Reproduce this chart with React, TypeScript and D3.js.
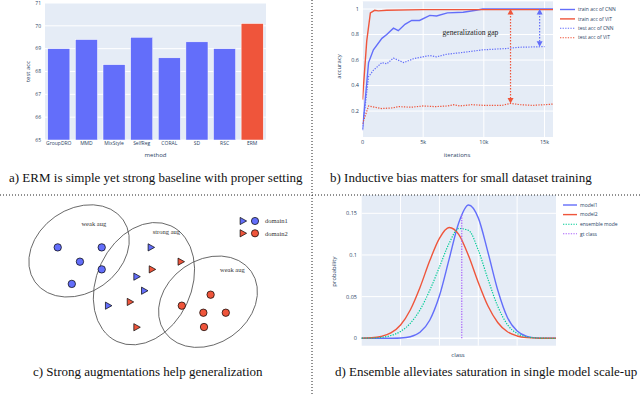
import React from "react";
import * as d3 from "d3";

// ---- panel a: test acc per method
const methods = ["GroupDRO", "MMD", "MixStyle", "SelfReg", "CORAL", "SD", "RSC", "ERM"];
const testAcc = [69.0, 69.4, 68.3, 69.5, 68.6, 69.3, 69.0, 70.1];
const accTicks = [65, 66, 67, 68, 69, 70, 71];

// ---- panel b: training curves
const cnnTrainIter = [0, 500, 900, 1600, 2000, 2550, 2950, 3500, 4050, 4700, 5550, 6100, 7000, 8300, 9350, 9900, 12000, 15700];
const cnnTrainAcc = [0.05, 0.58, 0.68, 0.77, 0.8, 0.85, 0.83, 0.88, 0.91, 0.91, 0.95, 0.945, 0.97, 0.975, 0.99, 1.0, 1.0, 1.0];
const vitTrainIter = [0, 350, 650, 1000, 1300, 2000, 5000, 15700];
const vitTrainAcc = [0.29, 0.75, 0.97, 0.99, 0.985, 0.99, 0.995, 0.995];
const cnnTestIter = [0, 500, 900, 1600, 2000, 2550, 3400, 4200, 4700, 5550, 6100, 6900, 8300, 9900, 11800, 12900, 15000];
const cnnTestAcc = [0.06, 0.47, 0.52, 0.58, 0.57, 0.615, 0.58, 0.61, 0.62, 0.635, 0.625, 0.645, 0.66, 0.68, 0.69, 0.7, 0.705];
const vitTestIter = [0, 500, 1000, 1600, 2500, 3000, 4000, 5000, 6000, 7000, 7500, 8000, 9000, 10000, 11500, 12200, 13000, 14000, 15000, 15700];
const vitTestAcc = [0.1, 0.24, 0.23, 0.22, 0.225, 0.235, 0.23, 0.24, 0.235, 0.24, 0.25, 0.24, 0.25, 0.245, 0.245, 0.26, 0.25, 0.245, 0.25, 0.255];
const iterTicks = [0, 5000, 10000, 15000];
const accTicksB = [0.2, 0.4, 0.6, 0.8, 1];

// ---- panel c: toy feature space
const d1Circles = [[1.26, 4.21], [3.26, 4.21], [2.27, 3.56], [3.26, 3.21], [1.9, 2.55]];
const d1Triangles = [[5.5, 4.21], [4.85, 2.88], [5.2, 2.24], [3.56, 1.56]];
const d2Triangles = [[6.86, 3.56], [5.55, 3.21], [4.55, 1.73], [4.85, 0.58]];
const d2Circles = [[6.9, 1.56], [8.21, 2.06], [7.88, 1.24], [8.9, 1.24], [7.91, 0.59]];
const augNames = ["weak aug", "strong aug", "weak aug"];
const augCenters = [[2.23, 4.05], [5.18, 2.56], [8.09, 1.74]];
const augRadii = [[2.45, 1.9], [2.15, 2.9], [2.4, 1.9]];
const augAngles = [-35, 25, -35];
const augLabelPos = [[2.9, 5.2], [6.2, 4.8], [9.2, 3.1]];

// ---- panel d: class distributions
const classX = [0, 5, 10, 15, 20, 25, 30, 35, 40, 45, 50, 55, 60, 65, 70, 75, 80, 85, 90, 95, 100];
const model1P = [0, 0, 0, 0.0001, 0.0004, 0.0019, 0.0072, 0.0217, 0.051, 0.095, 0.139, 0.16, 0.1445, 0.103, 0.058, 0.025, 0.0088, 0.0024, 0.0005, 0.0001, 0];
const model2P = [0.0002, 0.0006, 0.0022, 0.0064, 0.016, 0.034, 0.061, 0.093, 0.12, 0.133, 0.1245, 0.099, 0.067, 0.0387, 0.019, 0.0078, 0.0028, 0.0008, 0.0002, 0.0001, 0];
const ensembleP = [0.0001, 0.0003, 0.0011, 0.0033, 0.0082, 0.018, 0.0341, 0.0574, 0.0855, 0.114, 0.1318, 0.1295, 0.1058, 0.0709, 0.0385, 0.0164, 0.0058, 0.0016, 0.0004, 0.0001, 0];
const gtClass = 51.5;
const gtTop = 0.148;
const probTicks = [0, 0.05, 0.1, 0.15];
const classGrid = [20, 40, 60, 80];

const BLUE = "#636efa";
const RED = "#ef553b";
const GREEN = "#00cc96";
const PURPLE = "#ab63fa";
const BG = "#e5ecf6";
const FONT_COLOR = "#2a3f5f";
const SANS = "'Open Sans', 'DejaVu Sans', sans-serif";
const SERIF = "'Liberation Serif', 'DejaVu Serif', serif";

function PanelA() {
  const x = d3.scaleBand().domain(methods).range([45, 266]).paddingInner(0.2).paddingOuter(0.1);
  const y = d3.scaleLinear().domain([65, 71]).range([140, 3]);
  return (
    <g>
      <rect x={45} y={3} width={221} height={137} fill={BG} />
      {accTicks.map((t) => (
        <g key={t}>
          <line x1={45} x2={266} y1={y(t)} y2={y(t)} stroke="#fff" strokeWidth={1} />
          <text x={41} y={y(t)} dy="0.35em" textAnchor="end" fontSize={5} fill={FONT_COLOR}>{t}</text>
        </g>
      ))}
      {methods.map((m, i) => (
        <rect key={m} x={x(m)} y={y(testAcc[i])} width={x.bandwidth()} height={y(65) - y(testAcc[i])}
          fill={m === "ERM" ? RED : BLUE} stroke="#fff" strokeWidth={0.5} />
      ))}
      {methods.map((m) => (
        <text key={m} x={(x(m) as number) + x.bandwidth() / 2} y={145} textAnchor="middle" fontSize={5} fill={FONT_COLOR}>{m}</text>
      ))}
      <text x={155.5} y={157} textAnchor="middle" fontSize={6} fill={FONT_COLOR}>method</text>
      <text transform={`translate(30,${y(68)}) rotate(-90)`} textAnchor="middle" fontSize={6} fill={FONT_COLOR}>test acc</text>
    </g>
  );
}

function Arrow({ x, y1, y2, color }: { x: number; y1: number; y2: number; color: string }) {
  return (
    <g>
      <line x1={x} x2={x} y1={y1 + 4} y2={y2 - 4} stroke={color} strokeWidth={1.2} strokeDasharray="1.5 1.5" />
      <path d={`M${x},${y1} l-3,5.5 l6,0 z`} fill={color} />
      <path d={`M${x},${y2} l-3,-5.5 l6,0 z`} fill={color} />
    </g>
  );
}

function PanelB() {
  const x = d3.scaleLinear().domain([0, 15700]).range([362.5, 553]);
  const y = d3.scaleLinear().domain([0, 1]).range([136.6, 9]);
  const line = d3.line<[number, number]>().x((d) => x(d[0])).y((d) => y(d[1]));
  const series = [
    { name: "train acc of CNN", it: cnnTrainIter, v: cnnTrainAcc, c: BLUE, dash: undefined },
    { name: "train acc of ViT", it: vitTrainIter, v: vitTrainAcc, c: RED, dash: undefined },
    { name: "test acc of CNN", it: cnnTestIter, v: cnnTestAcc, c: BLUE, dash: "1.3 1.3" },
    { name: "test acc of ViT", it: vitTestIter, v: vitTestAcc, c: RED, dash: "1.3 1.3" },
  ];
  const top = y(1.06);
  return (
    <g>
      <defs>
        <clipPath id="clipB"><rect x={362.5} y={top} width={553 - 362.5} height={137 - top} /></clipPath>
      </defs>
      <rect x={362.5} y={top} width={553 - 362.5} height={137 - top} fill={BG} />
      {accTicksB.map((t) => (
        <g key={t}>
          <line x1={362.5} x2={553} y1={y(t)} y2={y(t)} stroke="#fff" />
          <text x={359} y={y(t)} dy="0.35em" textAnchor="end" fontSize={5.5} fill={FONT_COLOR}>{t}</text>
        </g>
      ))}
      {iterTicks.map((t) => (
        <g key={t}>
          <line x1={x(t)} x2={x(t)} y1={top} y2={137} stroke="#fff" />
          <text x={x(t)} y={144} textAnchor="middle" fontSize={5.5} fill={FONT_COLOR}>{d3.format("~s")(t)}</text>
        </g>
      ))}
      <g clipPath="url(#clipB)">
        {series.map((s) => (
          <path key={s.name} d={line(s.it.map((it, i) => [it, s.v[i]] as [number, number])) || ""}
            fill="none" stroke={s.c} strokeWidth={s.dash ? 1.2 : 1.4} strokeDasharray={s.dash} />
        ))}
      </g>
      <Arrow x={x(12200)} y1={y(1.0)} y2={y(0.26)} color={RED} />
      <Arrow x={x(14600)} y1={y(1.0)} y2={y(0.705)} color={BLUE} />
      <text x={x(8900)} y={y(0.8)} textAnchor="middle" fontSize={7.6} fontFamily={SERIF} fill="#222">generalization gap</text>
      <text x={457} y={157} textAnchor="middle" fontSize={6} fill={FONT_COLOR}>iterations</text>
      <text transform={`translate(341,${y(0.55)}) rotate(-90)`} textAnchor="middle" fontSize={6} fill={FONT_COLOR}>accuracy</text>
      {series.map((s, i) => (
        <g key={s.name} transform={`translate(560,${9.5 + i * 9.4})`}>
          <line x1={0} x2={15} y1={0} y2={0} stroke={s.c} strokeWidth={s.dash ? 1.1 : 1.4} strokeDasharray={s.dash} />
          <text x={18} y={0} dy="0.35em" fontSize={5} fill={FONT_COLOR}>{s.name}</text>
        </g>
      ))}
    </g>
  );
}

function PanelC() {
  const sx = d3.scaleLinear().domain([0, 10]).range([30, 250]);
  const sy = d3.scaleLinear().domain([0, 6]).range([340, 208]);
  const k = sx(1) - sx(0);
  const tri = (cx: number, cy: number, s = 4.2) =>
    `M${cx - s * 0.8},${cy - s} L${cx + s},${cy} L${cx - s * 0.8},${cy + s} Z`;
  return (
    <g fontFamily={SERIF}>
      {augCenters.map((c, i) => (
        <ellipse key={i} cx={0} cy={0} rx={augRadii[i][0] * k} ry={augRadii[i][1] * k}
          transform={`translate(${sx(c[0])},${sy(c[1])}) rotate(${augAngles[i]})`}
          fill="none" stroke="#555" strokeWidth={0.8} />
      ))}
      {augNames.map((n, i) => (
        <text key={i} x={sx(augLabelPos[i][0])} y={sy(augLabelPos[i][1])} textAnchor="middle" fontSize={6.5} fill="#333">{n}</text>
      ))}
      {d1Circles.map((p, i) => (
        <circle key={"a" + i} cx={sx(p[0])} cy={sy(p[1])} r={3.7} fill={BLUE} stroke="#000" strokeWidth={0.7} />
      ))}
      {d2Circles.map((p, i) => (
        <circle key={"b" + i} cx={sx(p[0])} cy={sy(p[1])} r={3.7} fill={RED} stroke="#000" strokeWidth={0.7} />
      ))}
      {d1Triangles.map((p, i) => (
        <path key={"c" + i} d={tri(sx(p[0]), sy(p[1]), 3.6)} fill={BLUE} stroke="#000" strokeWidth={0.7} />
      ))}
      {d2Triangles.map((p, i) => (
        <path key={"d" + i} d={tri(sx(p[0]), sy(p[1]), 3.6)} fill={RED} stroke="#000" strokeWidth={0.7} />
      ))}
      {[BLUE, RED].map((c, i) => (
        <g key={c} transform={`translate(0,${221 + i * 12.3})`}>
          <path d={tri(243, 0, 3.6)} fill={c} stroke="#000" strokeWidth={0.7} />
          <circle cx={255} cy={0} r={3.6} fill={c} stroke="#000" strokeWidth={0.7} />
          <text x={265} y={0} dy="0.35em" fontSize={6.5} fill="#333">{`domain${i + 1}`}</text>
        </g>
      ))}
    </g>
  );
}

function PanelD() {
  const x = d3.scaleLinear().domain([0, 100]).range([361.7, 556]);
  const y = d3.scaleLinear().domain([0, 0.15]).range([338.3, 213.3]);
  const top = 195;
  const bottom = 345.7;
  const line = d3.line<number>().x((_, i) => x(classX[i])).y((d) => y(d)).curve(d3.curveMonotoneX);
  const series = [
    { name: "model1", v: model1P, c: BLUE, dash: undefined },
    { name: "model2", v: model2P, c: RED, dash: undefined },
    { name: "ensemble mode", v: ensembleP, c: GREEN, dash: "1.3 1.3" },
  ];
  const legend = [...series.map((s) => ({ name: s.name, c: s.c, dash: s.dash })), { name: "gt class", c: PURPLE, dash: "1.3 1.3" }];
  return (
    <g>
      <rect x={361.7} y={top} width={556 - 361.7} height={bottom - top} fill={BG} />
      {probTicks.map((t) => (
        <g key={t}>
          <line x1={361.7} x2={556} y1={y(t)} y2={y(t)} stroke="#fff" strokeWidth={t === 0 ? 1.4 : 1} />
          <text x={357} y={y(t)} dy="0.35em" textAnchor="end" fontSize={5.5} fill={FONT_COLOR}>{t}</text>
        </g>
      ))}
      {classGrid.map((t) => (
        <line key={t} x1={x(t)} x2={x(t)} y1={top} y2={bottom} stroke="#fff" />
      ))}
      {series.map((s) => (
        <path key={s.name} d={line(s.v) || ""} fill="none" stroke={s.c} strokeWidth={s.dash ? 1.2 : 1.4} strokeDasharray={s.dash} />
      ))}
      <line x1={x(gtClass)} x2={x(gtClass)} y1={y(0)} y2={y(gtTop)} stroke={PURPLE} strokeWidth={1.2} strokeDasharray="1.3 1.3" />
      <text x={458} y={357} textAnchor="middle" fontSize={6} fill={FONT_COLOR}>class</text>
      <text transform={`translate(336,${y(0.08)}) rotate(-90)`} textAnchor="middle" fontSize={6} fill={FONT_COLOR}>probability</text>
      {legend.map((s, i) => (
        <g key={s.name} transform={`translate(563,${205 + i * 9.6})`}>
          <line x1={0} x2={14} y1={0} y2={0} stroke={s.c} strokeWidth={s.dash ? 1.1 : 1.4} strokeDasharray={s.dash} />
          <text x={17} y={0} dy="0.35em" fontSize={5} fill={FONT_COLOR}>{s.name}</text>
        </g>
      ))}
    </g>
  );
}

export default function App() {
  return (
    <svg width={640} height={396} style={{ position: "absolute", left: 0, top: 0, background: "#fff" }}
      fontFamily={SANS}>
      <PanelA />
      <PanelB />
      <PanelC />
      <PanelD />
      <g fontFamily={SERIF} fontSize={13} fill="#111">
        <text x={9} y={181.5}>a) ERM is simple yet strong baseline with proper setting</text>
        <text x={330} y={181.5}>b) Inductive bias matters for small dataset training</text>
        <text x={33} y={376}>c) Strong augmentations help generalization</text>
        <text x={335} y={376}>d) Ensemble alleviates saturation in single model scale-up</text>
      </g>
      <line x1={0} x2={640} y1={195} y2={195} stroke="#222" strokeWidth={1} strokeDasharray="1 2" />
      <line x1={312} x2={312} y1={0} y2={396} stroke="#222" strokeWidth={1} strokeDasharray="1 2" />
    </svg>
  );
}
